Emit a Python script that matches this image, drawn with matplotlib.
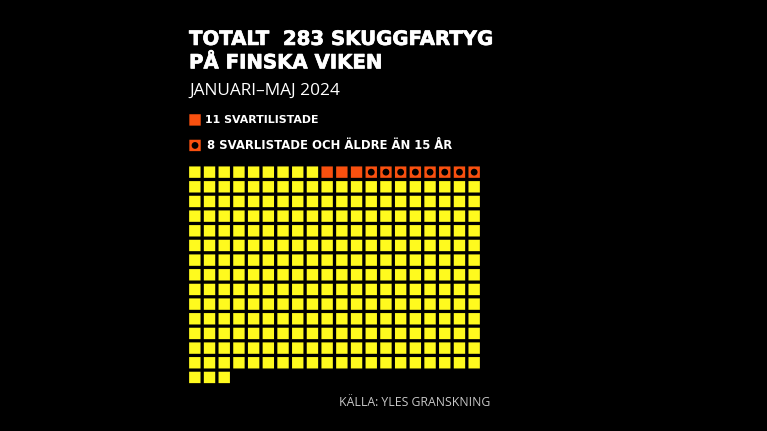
import matplotlib
matplotlib.use("Agg")
import numpy as np
import matplotlib.pyplot as plt
import matplotlib.patheffects as pe
from matplotlib.patches import Rectangle, Circle

TITLE = ["TOTALT  283 SKUGGFARTYG", "PÅ FINSKA VIKEN"]
SUBTITLE = "JANUARI–MAJ 2024"
LEGEND_1 = "11 SVARTILISTADE"
LEGEND_2 = "8 SVARLISTADE OCH ÄLDRE ÄN 15 ÅR"
SOURCE = "KÄLLA: YLES GRANSKNING"

# order in the waffle, left to right from top row
total_ships = 283
normal_first = 9
blacklisted = 11
blacklisted_old = 8

COLS = 20
YELLOW = "#fffa1e"
ORANGE = "#f9500f"

x0, y0 = 194.8, 172.2
step_x, step_y = 14.7, 14.66
side = 11.4
dot_r = 3.4


def draw_cell(ax, cx, cy, color, dot=False):
    ax.add_patch(Rectangle((cx - side / 2, cy - side / 2), side, side, fc=color, lw=0, snap=False))
    if dot:
        ax.add_patch(Circle((cx, cy), dot_r, fc="black", lw=0, snap=False))


fig = plt.figure(figsize=(7.671, 4.311), dpi=100, facecolor="black")
ax = fig.add_axes([0, 0, 1, 1])
ax.set_xlim(0, 767)
ax.set_ylim(431, 0)
ax.axis("off")

# the 8 old ones are part of the 11 blacklisted, they sit at the end of that run
first_old = normal_first + blacklisted - blacklisted_old
for i in range(total_ships):
    cx = x0 + (i % COLS) * step_x
    cy = y0 + (i // COLS) * step_y
    if normal_first <= i < normal_first + blacklisted:
        draw_cell(ax, cx, cy, ORANGE, dot=i >= first_old)
    else:
        draw_cell(ax, cx, cy, YELLOW)

# legend
draw_cell(ax, 195, 120, ORANGE)
draw_cell(ax, 195, 145.5, ORANGE, dot=True)

thick = [pe.withStroke(linewidth=0.5, foreground="white")]
bold = dict(family="DejaVu Sans", weight="bold", color="white", va="center", ha="left")
ax.text(189, 39.5, TITLE[0], fontsize=14.2, path_effects=thick, **bold)
ax.text(189, 63, TITLE[1], fontsize=14.2, path_effects=thick, **bold)
ax.text(189, 91, SUBTITLE, fontsize=12.4, family="Open Sans", color="white", va="center", ha="left")
ax.text(205, 119.5, LEGEND_1, fontsize=7.95, **bold)
ax.text(207, 145, LEGEND_2, fontsize=8.35, **bold)
ax.text(339, 402.5, SOURCE, fontsize=8.8, family="Open Sans", color="#c8c8c8", va="center", ha="left")

fig.savefig("out.png", dpi=100, facecolor="black")
